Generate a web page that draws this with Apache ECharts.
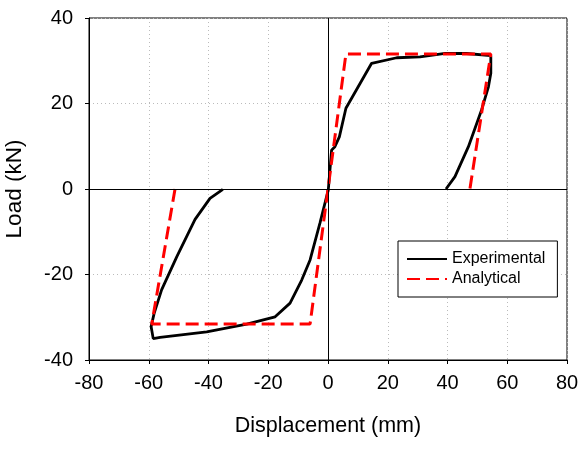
<!DOCTYPE html>
<html>
<head>
<meta charset="utf-8">
<script src="https://cdn.jsdelivr.net/npm/echarts@6/dist/echarts.min.js"></script>
<style>
  html, body { margin: 0; padding: 0; background: #fff; }
  #echarts { width: 581px; height: 451px; }
</style>
</head>
<body>
<div id="echarts"></div>
<script>
// values: [displacement (mm), load (kN)]
var experimental = [
    [-35.2, -0.1], [-39.5, -2.2], [-44.5, -7.1], [-50.6, -15.8], [-55.7, -23.6],
    [-58.2, -29.1], [-59.2, -32.2], [-58.5, -35.0], [-56.2, -34.7], [-40.6, -33.4],
    [-27.2, -31.6], [-17.7, -29.9], [-12.7, -26.7], [-8.8, -21.3], [-6.0, -16.6],
    [-2.7, -8.0], [0.1, -0.2], [1.2, 9.1], [2.3, 9.9], [3.8, 12.2],
    [6.0, 18.9], [14.6, 29.4], [23.0, 30.7], [30.8, 30.9], [39.2, 31.7],
    [46.4, 31.7], [54.5, 31.2], [54.5, 27.1], [53.7, 23.9], [51.4, 18.5],
    [47.0, 9.9], [42.5, 2.9], [39.5, 0]
];
var analytical = [
    [-51.2, 0], [-59.0, -31.6], [-6.0, -31.6], [6.0, 31.6], [54.5, 31.6], [47.5, 0]
];
var xTicks = { min: -80, max: 80, interval: 20 };
var yTicks = { min: -40, max: 40, interval: 20 };

var font = '"Liberation Sans", Arial, sans-serif';
var myChart = echarts.init(document.getElementById('echarts'));

var option = {
    animation: false,
    textStyle: { fontFamily: font, color: '#000' },
    grid: {
        left: 89, right: 14, top: 18, bottom: 91,
        containLabel: false,
        outerBoundsMode: 'none',
        show: true, borderColor: '#000', borderWidth: 1
    },
    legend: {
        orient: 'vertical',
        left: 398, top: 241,
        padding: [10, 12, 10, 8],
        itemWidth: 40, itemHeight: 16, itemGap: 4, itemTextGap: 8,
        backgroundColor: '#fff',
        borderColor: '#000', borderWidth: 1, borderRadius: 0,
        itemStyle: { opacity: 0 },
        textStyle: { fontFamily: font, fontSize: 16, color: '#000' },
        data: ['Experimental', 'Analytical']
    },
    xAxis: {
        type: 'value',
        min: xTicks.min, max: xTicks.max, interval: xTicks.interval,
        name: 'Displacement (mm)',
        nameLocation: 'middle', nameGap: 55,
        nameTextStyle: { fontFamily: font, fontSize: 21.5, color: '#000' },
        axisLine: { onZero: false, lineStyle: { color: '#000', width: 1 } },
        axisTick: { show: true, length: 4, lineStyle: { color: '#000' } },
        axisLabel: { fontFamily: font, fontSize: 20, color: '#000', margin: 13 },
        splitLine: { show: true, lineStyle: { color: '#bbb', type: [1, 3], width: 1 } }
    },
    yAxis: {
        type: 'value',
        min: yTicks.min, max: yTicks.max, interval: yTicks.interval,
        name: 'Load (kN)',
        nameLocation: 'middle', nameGap: 63,
        nameTextStyle: { fontFamily: font, fontSize: 22.5, color: '#000' },
        axisLine: { show: true, onZero: false, lineStyle: { color: '#000', width: 1 } },
        axisTick: { show: true, length: 4, lineStyle: { color: '#000' } },
        axisLabel: { fontFamily: font, fontSize: 20, color: '#000', margin: 16 },
        splitLine: { show: true, lineStyle: { color: '#bbb', type: [1, 3], width: 1 } }
    },
    series: [{
        name: 'Experimental',
        type: 'line',
        data: experimental,
        symbol: 'none',
        showSymbol: false,
        color: '#000',
        lineStyle: { color: '#000', width: 2.8 },
        z: 3,
        markLine: {
            silent: true,
            symbol: 'none',
            label: { show: false },
            lineStyle: { color: '#000', width: 1, type: 'solid' },
            data: [{ xAxis: 0 }, { yAxis: 0 }]
        }
    }, {
        name: 'Analytical',
        type: 'line',
        data: analytical,
        symbol: 'none',
        showSymbol: false,
        color: '#ff0000',
        lineStyle: { color: '#ff0000', width: 3, type: [13, 6] },
        z: 4
    }]
};
myChart.setOption(option);
</script>
</body>
</html>
